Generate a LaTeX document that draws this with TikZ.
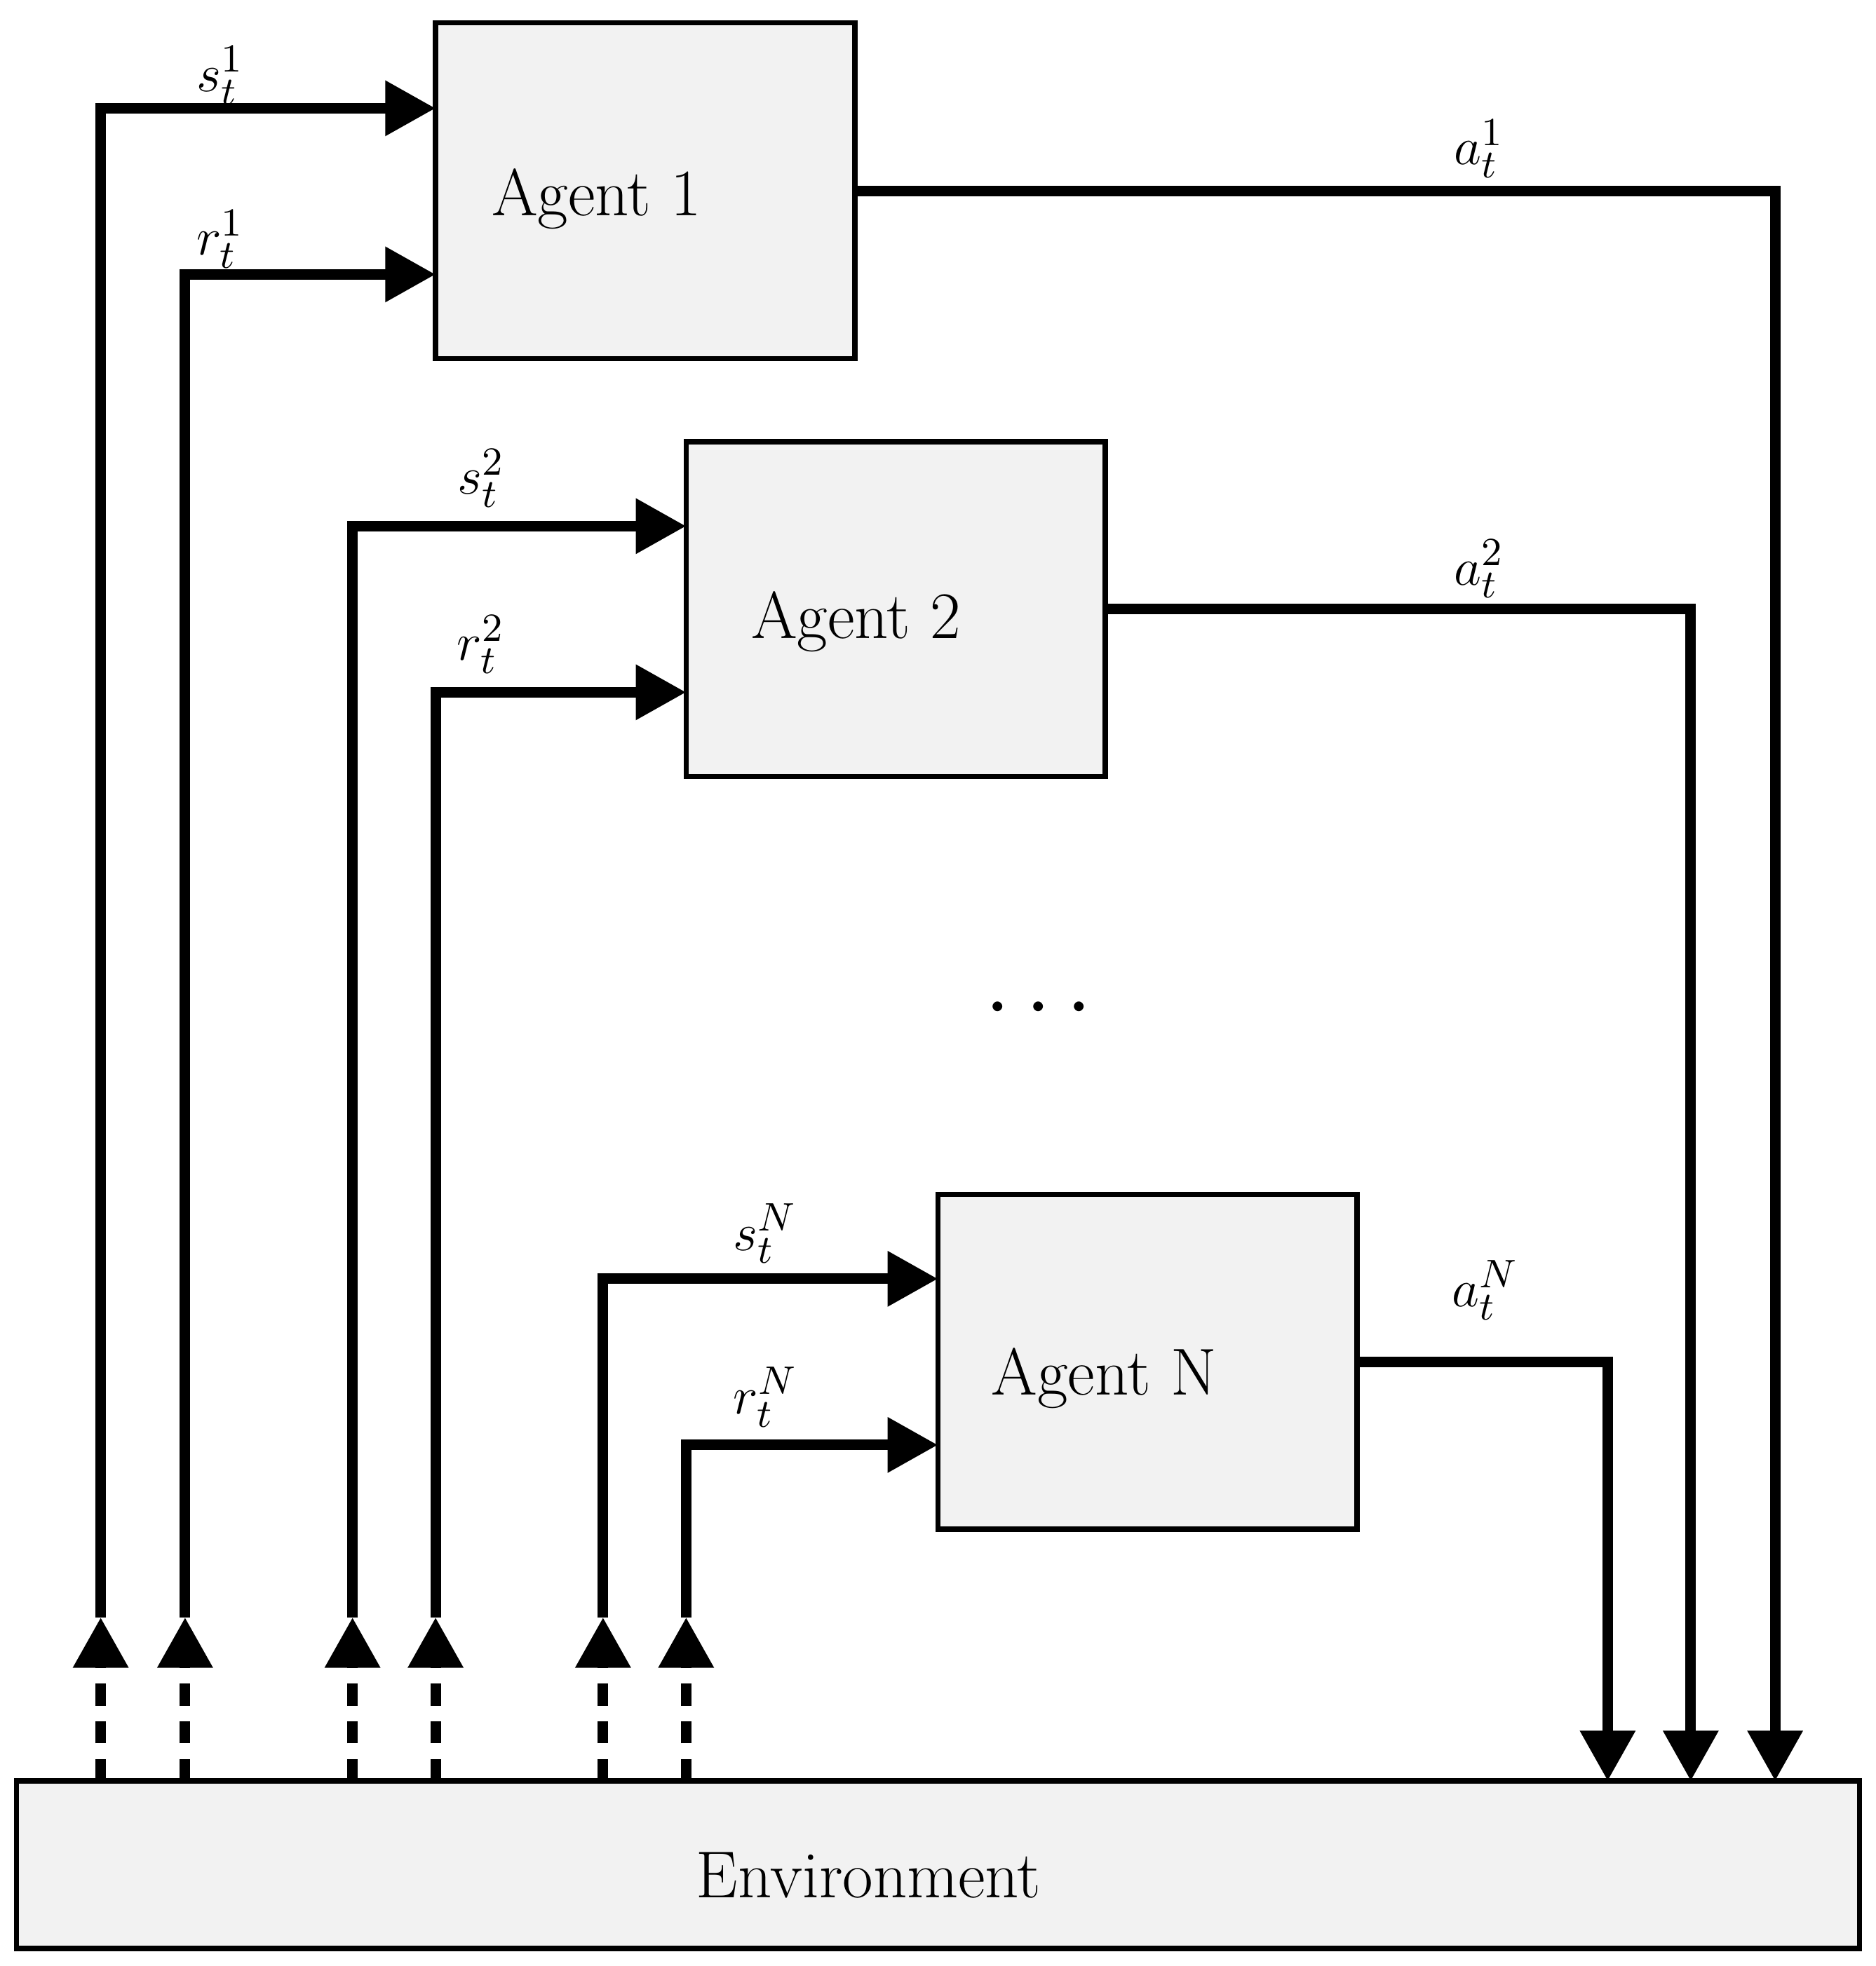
\documentclass[tikz,border=0pt]{standalone}
\usetikzlibrary{arrows.meta}
\definecolor{boxgray}{HTML}{F2F2F2}
\begin{document}
\begin{tikzpicture}[x=0.01cm,y=-0.01cm,
  box/.style={draw,line width=1.2pt,fill=boxgray},
  wire/.style={line width=2.4pt},
  tip/.style={-{Triangle[length=0.4cm,width=0.42cm]}},
  lbl/.style={font=\fontsize{13}{15}\selectfont},
  txt/.style={font=\fontsize{15}{18}\selectfont}]
\useasboundingbox (0,0) rectangle (1490,1562);
\draw[box] (346,18) rectangle (679,285);
\draw[box] (545,351) rectangle (878,617);
\draw[box] (745,949) rectangle (1078,1215);
\draw[box] (13,1415) rectangle (1477,1548);
\node[txt] (ag1) at (474,158) {Agent 1};
\node[txt] (ag2) at (680,494) {Agent 2};
\node[txt] (agN) at (877,1095) {Agent N};
\node[txt] (env) at (690,1490) {Environment};
\node[font=\huge] (dots) at (825,802) {$\cdots$};
\foreach \x/\y/\nm in {80/86/s1,147/218/r1,280/418/s2,346/550/r2,479/1016/sN,545/1148/rN}{
  \coordinate (b\nm) at (\x,1415);
  \coordinate (m\nm) at (\x,1285);
  \coordinate (c\nm) at (\x,\y);
}
\coordinate (es1) at (346,86); \coordinate (er1) at (346,218);
\coordinate (es2) at (545,418); \coordinate (er2) at (545,550);
\coordinate (esN) at (745,1016); \coordinate (erN) at (745,1148);
\foreach \nm in {s1,r1,s2,r2,sN,rN}{
  \draw[wire,dash pattern=on 5pt off 3.5pt,tip] (b\nm) -- (m\nm);
  \draw[wire,tip] (m\nm) -- (c\nm) -- (e\nm);
}
\coordinate (o1) at (679,152); \coordinate (k1) at (1410,152); \coordinate (t1) at (1410,1415);
\coordinate (o2) at (878,484); \coordinate (k2) at (1343,484); \coordinate (t2) at (1343,1415);
\coordinate (oN) at (1078,1082); \coordinate (kN) at (1277,1082); \coordinate (tN) at (1277,1415);
\foreach \nm in {1,2,N}{\draw[wire,tip] (o\nm) -- (k\nm) -- (t\nm);}
\node[lbl] (ls1) at (175,60) {$s_t^1$};
\node[lbl] (lr1) at (175,190) {$r_t^1$};
\node[lbl] (ls2) at (382,380) {$s_t^2$};
\node[lbl] (lr2) at (382,512) {$r_t^2$};
\node[lbl] (lsN) at (608,980) {$s_t^N$};
\node[lbl] (lrN) at (608,1110) {$r_t^N$};
\node[lbl] (la1) at (1175,118) {$a_t^1$};
\node[lbl] (la2) at (1175,452) {$a_t^2$};
\node[lbl] (laN) at (1180,1025) {$a_t^N$};
\end{tikzpicture}
\end{document}
